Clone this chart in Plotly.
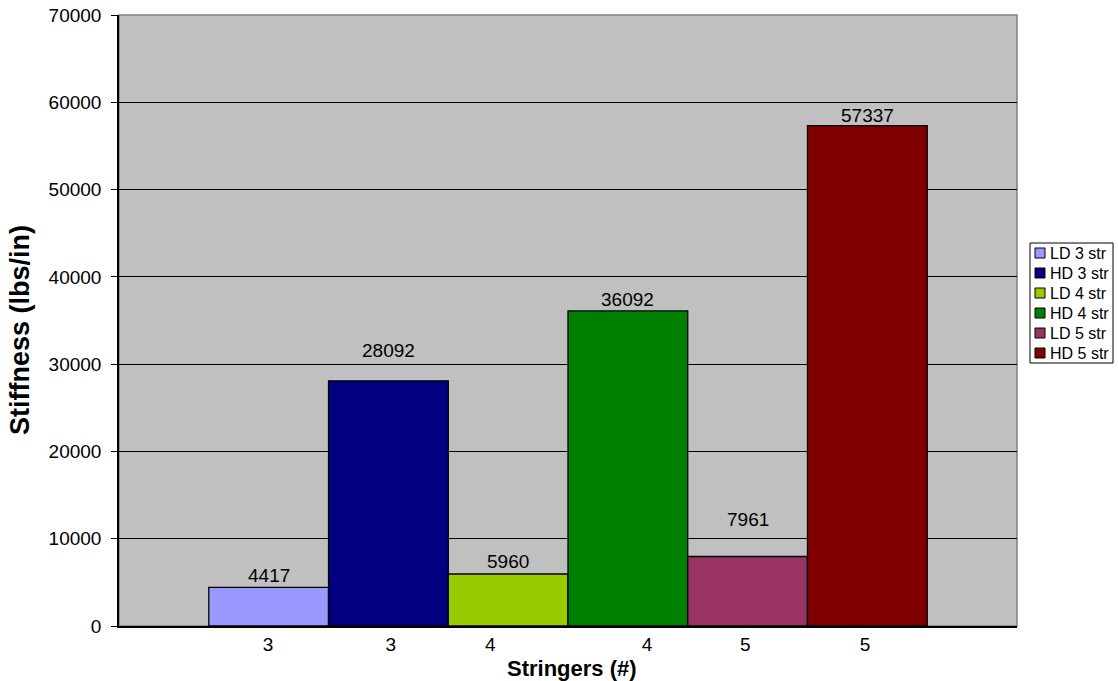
import plotly.graph_objects as go

# Stiffness of each panel configuration
series_names = ["LD 3 str", "HD 3 str", "LD 4 str", "HD 4 str", "LD 5 str", "HD 5 str"]
stringer_labels = ["3", "3", "4", "4", "5", "5"]
stiffness = [4417, 28092, 5960, 36092, 7961, 57337]
bar_colors = ["#9999FF", "#000080", "#99CC00", "#008000", "#993366", "#800000"]

# layout helpers: bar slots on a 0..7.5 axis, label placement
bar_pos = [1.25, 2.25, 3.25, 4.25, 5.25, 6.25]
tick_pos = [1.245, 2.27, 3.10, 4.41, 5.23, 6.23]
label_lift = [12, 30, 12, 11, 37, 10]

font_family = "Liberation Sans, Arial, sans-serif"

W, H = 1118, 681
ML, MR, MT, MB = 119, 101, 15, 55
PW, PH = W - ML - MR, H - MT - MB


def px_x(px):
    return (px - ML) / PW


def px_y(py):
    return (H - MB - py) / PH


fig = go.Figure()
for name, pos, val, col in zip(series_names, bar_pos, stiffness, bar_colors):
    fig.add_trace(go.Bar(
        name=name, x=[pos], y=[val], width=1.0,
        marker=dict(color=col, line=dict(color="black", width=1.3)),
        hoverinfo="skip", showlegend=False,
    ))

for pos, val, lift in zip(bar_pos, stiffness, label_lift):
    fig.add_annotation(
        x=pos, y=val, text=str(val), showarrow=False,
        yanchor="middle", yshift=lift,
        font=dict(family=font_family, size=19, color="black"),
    )

# outer border of the plot area
fig.add_shape(type="rect", xref="paper", yref="paper", x0=0, y0=0, x1=1, y1=1,
              line=dict(color="#808080", width=1.5), layer="below")

# axis titles
fig.add_annotation(
    xref="paper", yref="paper", x=px_x(20), y=px_y(330), textangle=-90,
    text="<b>Stiffness (lbs/in)</b>", showarrow=False,
    xanchor="center", yanchor="middle",
    font=dict(family=font_family, size=27, color="black"),
)
fig.add_annotation(
    xref="paper", yref="paper", x=px_x(572), y=px_y(668),
    text="<b>Stringers (#)</b>", showarrow=False,
    xanchor="center", yanchor="middle",
    font=dict(family=font_family, size=22, color="black"),
)

# legend box with one swatch + label per series
leg_left, leg_right, leg_top = 1030, 1113, 243
row0, row_gap, sw = 253, 20, 10
leg_bottom = row0 + row_gap * (len(series_names) - 1) + 10
fig.add_shape(type="rect", xref="paper", yref="paper",
              x0=px_x(leg_left), x1=px_x(leg_right), y0=px_y(leg_bottom), y1=px_y(leg_top),
              line=dict(color="black", width=1), fillcolor="white")
for i, (name, col) in enumerate(zip(series_names, bar_colors)):
    cy = row0 + i * row_gap
    fig.add_shape(type="rect", xref="paper", yref="paper",
                  x0=px_x(1035), x1=px_x(1035 + sw),
                  y0=px_y(cy + sw / 2), y1=px_y(cy - sw / 2),
                  line=dict(color="black", width=1), fillcolor=col)
    fig.add_annotation(
        xref="paper", yref="paper", x=px_x(1048), y=px_y(cy),
        text=name, showarrow=False, xanchor="left", yanchor="middle",
        font=dict(family=font_family, size=16, color="black"),
    )

fig.update_layout(
    width=W, height=H,
    margin=dict(l=ML, r=MR, t=MT, b=MB, autoexpand=False),
    paper_bgcolor="white",
    plot_bgcolor="#C0C0C0",
    barmode="overlay",
    showlegend=False,
    font=dict(family=font_family, color="black"),
    xaxis=dict(
        range=[0, 7.5], tickmode="array", tickvals=tick_pos, ticktext=stringer_labels,
        showgrid=False, zeroline=False, ticks="",
        showline=True, linecolor="black", linewidth=1.5,
        tickfont=dict(family=font_family, size=19, color="black"),
    ),
    yaxis=dict(
        range=[0, 70000], tickmode="linear", tick0=0, dtick=10000, tickformat="d",
        showgrid=True, gridcolor="black", gridwidth=1,
        zeroline=False, ticks="outside", ticklen=6, tickcolor="black",
        showline=True, linecolor="black", linewidth=1.5,
        tickfont=dict(family=font_family, size=19, color="black"),
        ticklabelstandoff=6,
    ),
)

fig.write_html("out.html")
